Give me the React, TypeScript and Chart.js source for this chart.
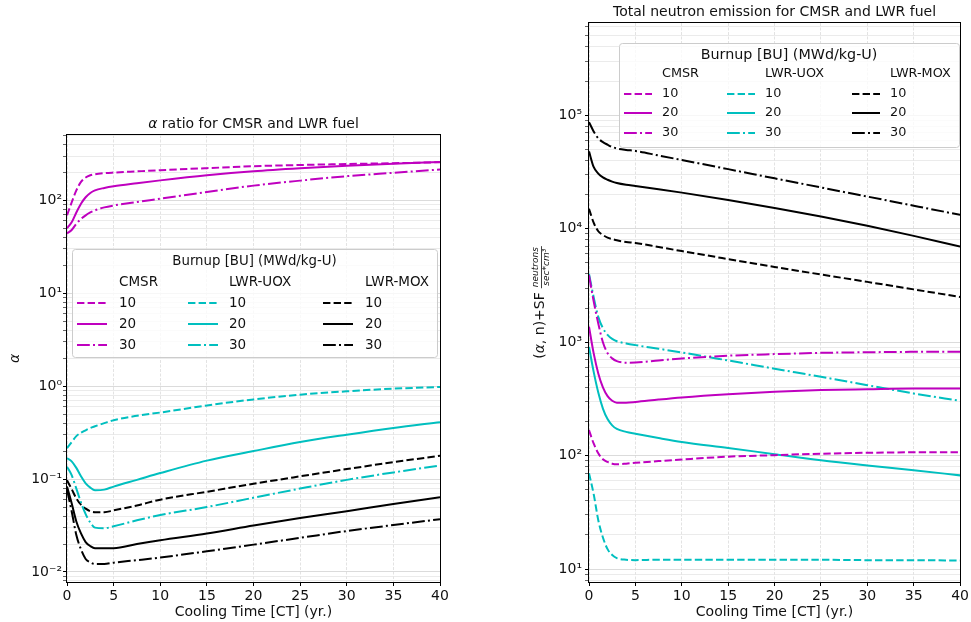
import React, { useEffect, useRef } from 'react';
import { Chart, registerables } from 'chart.js';

Chart.register(...registerables);

// ---------------- DATA ----------------
const coolingTime = [0, 0.5, 1, 1.5, 2, 2.5, 3, 4, 5, 7.5, 10, 15, 20, 25, 30, 35, 40];

// alpha ratio (left panel)
const alphaCMSR10 = [69, 95, 128, 158, 176, 186, 191, 196, 199, 205, 211, 222, 233, 240, 246, 251, 257];
const alphaCMSR20 = [50, 58, 74, 92, 108, 120, 128, 136, 142, 153, 164, 186, 206, 222, 236, 248, 259];
const alphaCMSR30 = [44, 48, 56, 63, 69, 74, 78, 84, 88, 96, 104, 123, 144, 163, 182, 198, 215];
const alphaUOX10 = [0.215, 0.25, 0.29, 0.315, 0.335, 0.355, 0.37, 0.4, 0.43, 0.48, 0.52, 0.62, 0.72, 0.81, 0.88, 0.94, 0.98];
const alphaUOX20 = [0.168, 0.155, 0.132, 0.107, 0.09, 0.081, 0.076, 0.077, 0.083, 0.098, 0.116, 0.158, 0.2, 0.25, 0.3, 0.355, 0.41];
const alphaUOX30 = [0.136, 0.11, 0.079, 0.056, 0.042, 0.034, 0.03, 0.0295, 0.031, 0.036, 0.041, 0.05, 0.063, 0.079, 0.098, 0.118, 0.14];
const alphaMOX10 = [0.097, 0.078, 0.062, 0.053, 0.048, 0.045, 0.044, 0.044, 0.046, 0.052, 0.06, 0.073, 0.089, 0.107, 0.128, 0.152, 0.178];
const alphaMOX20 = [0.083, 0.055, 0.035, 0.026, 0.021, 0.019, 0.018, 0.018, 0.018, 0.02, 0.022, 0.026, 0.0316, 0.038, 0.045, 0.054, 0.0636];
const alphaMOX30 = [0.077, 0.045, 0.025, 0.0175, 0.0138, 0.0127, 0.0122, 0.0122, 0.0126, 0.0134, 0.0143, 0.0167, 0.0197, 0.0233, 0.0276, 0.032, 0.037];

// total neutron emission (right panel)
const neutronCMSR10 = [168, 128, 105, 93, 88, 85, 84, 85, 86.5, 89.5, 92.5, 98, 101, 104, 106, 107, 107];
const neutronCMSR20 = [1370, 800, 530, 400, 335, 305, 293, 293, 297, 312, 326, 348, 365, 378, 385, 391, 391];
const neutronCMSR30 = [3900, 2300, 1460, 1000, 800, 720, 680, 660, 662, 690, 718, 760, 785, 805, 815, 822, 825];
const neutronUOX10 = [70, 46, 27, 19, 15, 13.3, 12.5, 12.1, 12.0, 12.1, 12.1, 12.1, 12.1, 12.1, 12.0, 12.0, 11.9];
const neutronUOX20 = [910, 550, 360, 260, 210, 185, 172, 162, 156, 143, 132, 117, 103, 91, 82, 74.5, 67];
const neutronUOX30 = [4000, 2500, 1670, 1330, 1160, 1070, 1020, 975, 942, 875, 812, 690, 584, 495, 418, 353, 304];
const neutronMOX10 = [15000, 11300, 9500, 8800, 8350, 8100, 7900, 7650, 7500, 6900, 6350, 5400, 4600, 3950, 3400, 2920, 2500];
const neutronMOX20 = [48000, 35000, 30600, 28300, 27000, 26000, 25300, 24400, 23800, 22300, 20800, 17900, 15200, 12800, 10600, 8650, 6950];
const neutronMOX30 = [87000, 72000, 62500, 58000, 55000, 52500, 51000, 49500, 48500, 44200, 40300, 33500, 27800, 23100, 19200, 15950, 13250];

const fuelTypes = ['CMSR', 'LWR-UOX', 'LWR-MOX'];
const burnups = ['10', '20', '30'];
const xTickValues = [0, 5, 10, 15, 20, 25, 30, 35, 40];
const alphaRange = [0.0078, 505];
const neutronRange = [7.7, 650000];

const alphaSeries = [
  [alphaCMSR10, alphaCMSR20, alphaCMSR30],
  [alphaUOX10, alphaUOX20, alphaUOX30],
  [alphaMOX10, alphaMOX20, alphaMOX30],
];
const neutronSeries = [
  [neutronCMSR10, neutronCMSR20, neutronCMSR30],
  [neutronUOX10, neutronUOX20, neutronUOX30],
  [neutronMOX10, neutronMOX20, neutronMOX30],
];

// ---------------- STYLE ----------------
const FONT = '"DejaVu Sans", "Liberation Sans", sans-serif';
const fuelColors = ['#bf00bf', '#00bfbf', '#000000'];
const burnupDash: number[][] = [[7.4, 3.2], [], [12.8, 3.2, 2, 3.2]];
const TEXT = '#111111';

const SUP: Record<string, string> = {
  '-': '⁻', '0': '⁰', '1': '¹', '2': '²', '3': '³', '4': '⁴', '5': '⁵', '6': '⁶', '7': '⁷', '8': '⁸', '9': '⁹',
};
const isPow10 = (v: number) => Math.abs(Math.log10(v) - Math.round(Math.log10(v))) < 1e-6;
const powLabel = (v: number) => '10' + String(Math.round(Math.log10(v))).split('').map((c) => SUP[c]).join('');

function logTicks(min: number, max: number) {
  const ticks: { value: number }[] = [];
  for (let e = Math.floor(Math.log10(min)); e <= Math.ceil(Math.log10(max)); e++) {
    for (let m = 1; m <= 9; m++) {
      const v = m * Math.pow(10, e);
      if (v >= min && v <= max) ticks.push({ value: v });
    }
  }
  return ticks;
}

type Part = { text: string; italic?: boolean };

function drawParts(ctx: CanvasRenderingContext2D, parts: Part[], x: number, y: number, size: number, align: 'center' | 'left') {
  const widths = parts.map((p) => {
    ctx.font = `${p.italic ? 'italic ' : ''}${size}px ${FONT}`;
    return ctx.measureText(p.text).width;
  });
  const total = widths.reduce((a, b) => a + b, 0);
  let cx = align === 'center' ? x - total / 2 : x;
  ctx.textAlign = 'left';
  parts.forEach((p, i) => {
    ctx.font = `${p.italic ? 'italic ' : ''}${size}px ${FONT}`;
    ctx.fillText(p.text, cx, y);
    cx += widths[i];
  });
  return total;
}

function measureParts(ctx: CanvasRenderingContext2D, parts: Part[], size: number) {
  return parts.reduce((acc, p) => {
    ctx.font = `${p.italic ? 'italic ' : ''}${size}px ${FONT}`;
    return acc + ctx.measureText(p.text).width;
  }, 0);
}

type LegendCfg = {
  box: [number, number, number, number];
  titleY: number;
  headerY: number;
  rowY: number[];
  handleX: number[];
  handleLen: number;
  textX: number[];
  titleSize: number;
  labelSize: number;
};

type Deco = {
  title: Part[];
  titleSize: number;
  yTitle: 'alpha' | 'neutron';
  yTitleX: number;
  legend: LegendCfg;
};

const decoPlugin = {
  id: 'deco',
  afterDraw(chart: any, _args: any, opts: Deco) {
    const ctx: CanvasRenderingContext2D = chart.ctx;
    const a = chart.chartArea;
    ctx.save();
    // frame
    ctx.strokeStyle = '#000';
    ctx.lineWidth = 1;
    ctx.setLineDash([]);
    ctx.strokeRect(Math.round(a.left) - 0.5, Math.round(a.top) - 0.5, Math.round(a.right - a.left) + 1, Math.round(a.bottom - a.top) + 1);

    ctx.fillStyle = TEXT;
    ctx.textBaseline = 'middle';
    const midX = (a.left + a.right) / 2;
    const midY = (a.top + a.bottom) / 2;
    // title
    drawParts(ctx, opts.title, midX, a.top - 11, opts.titleSize, 'center');
    // x title
    drawParts(ctx, [{ text: 'Cooling Time [CT] (yr.)' }], midX, a.bottom + 30, 14, 'center');

    // y title
    ctx.save();
    ctx.translate(opts.yTitleX, midY);
    ctx.rotate(-Math.PI / 2);
    if (opts.yTitle === 'alpha') {
      drawParts(ctx, [{ text: 'α', italic: true }], 0, 0, 14, 'center');
    } else {
      const main: Part[] = [{ text: '(' }, { text: 'α', italic: true }, { text: ', n)+SF' }];
      const mainW = measureParts(ctx, main, 14);
      ctx.font = `italic 9px ${FONT}`;
      const num = 'neutrons';
      const den = 'sec*cm³';
      const numW = ctx.measureText(num).width;
      const denW = ctx.measureText(den).width;
      const fracW = Math.max(numW, denW) + 2;
      const total = mainW + 4 + fracW;
      const x0 = -total / 2;
      drawParts(ctx, main, x0, 0, 14, 'left');
      const fx = x0 + mainW + 4 + fracW / 2;
      ctx.font = `italic 9px ${FONT}`;
      ctx.textAlign = 'center';
      ctx.fillText(num, fx, -4);
      ctx.fillText(den, fx, 6.5);
      ctx.strokeStyle = TEXT;
      ctx.lineWidth = 0.8;
      ctx.beginPath();
      ctx.moveTo(fx - fracW / 2, 1.5);
      ctx.lineTo(fx + fracW / 2, 1.5);
      ctx.stroke();
    }
    ctx.restore();

    // legend
    const L = opts.legend;
    const [bx, by, bw, bh] = L.box;
    ctx.fillStyle = 'rgba(255,255,255,0.8)';
    ctx.strokeStyle = '#cccccc';
    ctx.lineWidth = 1;
    ctx.beginPath();
    (ctx as any).roundRect(bx + 0.5, by + 0.5, bw, bh, 3);
    ctx.fill();
    ctx.stroke();
    ctx.fillStyle = TEXT;
    ctx.textBaseline = 'middle';
    drawParts(ctx, [{ text: 'Burnup [BU] (MWd/kg-U)' }], bx + bw / 2, L.titleY, L.titleSize, 'center');
    fuelTypes.forEach((fuel, c) => {
      ctx.fillStyle = TEXT;
      drawParts(ctx, [{ text: fuel }], L.textX[c], L.headerY, L.labelSize, 'left');
      burnups.forEach((bu, r) => {
        ctx.save();
        ctx.strokeStyle = fuelColors[c];
        ctx.lineWidth = 2;
        ctx.setLineDash(burnupDash[r]);
        ctx.beginPath();
        ctx.moveTo(L.handleX[c], L.rowY[r]);
        ctx.lineTo(L.handleX[c] + L.handleLen, L.rowY[r]);
        ctx.stroke();
        ctx.restore();
        ctx.fillStyle = TEXT;
        drawParts(ctx, [{ text: bu }], L.textX[c], L.rowY[r], L.labelSize, 'left');
      });
    });
    ctx.restore();
  },
};

type PanelSpec = {
  series: number[][][];
  range: number[];
  padding: { left: number; right: number; top: number; bottom: number };
  yWidth: number;
  yTickPad: number;
  tickSize: number;
  deco: Deco;
};

function buildConfig(spec: PanelSpec): any {
  const datasets: any[] = [];
  spec.series.forEach((group, c) => {
    group.forEach((values, r) => {
      datasets.push({
        label: `${fuelTypes[c]} ${burnups[r]}`,
        data: coolingTime.map((x, i) => ({ x, y: values[i] })),
        borderColor: fuelColors[c],
        backgroundColor: fuelColors[c],
        borderWidth: 2,
        borderDash: burnupDash[r],
        pointRadius: 0,
        fill: false,
        cubicInterpolationMode: 'monotone',
      });
    });
  });
  return {
    type: 'line',
    data: { datasets },
    plugins: [decoPlugin],
    options: {
      animation: false,
      responsive: false,
      devicePixelRatio: 1,
      layout: { padding: spec.padding },
      plugins: {
        legend: { display: false },
        tooltip: { enabled: false },
        title: { display: false },
        deco: spec.deco,
      },
      scales: {
        x: {
          type: 'linear',
          min: 0,
          max: 40,
          afterBuildTicks: (scale: any) => {
            scale.ticks = xTickValues.map((v) => ({ value: v }));
          },
          afterFit: (scale: any) => {
            scale.height = 40;
          },
          ticks: {
            color: TEXT,
            font: { family: FONT, size: spec.tickSize },
            padding: 2,
            maxRotation: 0,
            autoSkip: false,
            callback: (v: number) => String(v),
          },
          grid: {
            color: '#dcdcdc',
            lineWidth: 0.8,
            tickColor: '#000',
            tickLength: 4,
            tickWidth: 1,
          },
          border: { display: false, dash: [3, 1.5] },
        },
        y: {
          type: 'logarithmic',
          min: spec.range[0],
          max: spec.range[1],
          afterBuildTicks: (scale: any) => {
            scale.ticks = logTicks(spec.range[0], spec.range[1]);
          },
          afterFit: (scale: any) => {
            scale.width = spec.yWidth;
          },
          ticks: {
            color: TEXT,
            font: { family: FONT, size: spec.tickSize },
            padding: spec.yTickPad,
            autoSkip: false,
            callback: (v: number) => (isPow10(v) ? powLabel(v) : ''),
          },
          grid: {
            color: (ctx: any) => (ctx.tick && isPow10(ctx.tick.value) ? '#d2d2d2' : '#e6e6e6'),
            lineWidth: 0.8,
            tickColor: '#000',
            tickLength: 4,
            tickWidth: (ctx: any) => (ctx.tick && isPow10(ctx.tick.value) ? 1 : 0.6),
          },
          border: { display: false },
        },
      },
    },
  };
}

const leftSpec: PanelSpec = {
  series: alphaSeries,
  range: alphaRange,
  padding: { left: 0, right: 45, top: 135, bottom: 0 },
  yWidth: 67,
  yTickPad: 1,
  tickSize: 14,
  deco: {
    title: [{ text: 'α', italic: true }, { text: ' ratio for CMSR and LWR fuel' }],
    titleSize: 14,
    yTitle: 'alpha',
    yTitleX: 15,
    legend: {
      box: [72, 249, 365, 108],
      titleY: 262,
      headerY: 282,
      rowY: [303, 324, 345],
      handleX: [77, 188, 323],
      handleLen: 30,
      textX: [119, 229, 365],
      titleSize: 13.3,
      labelSize: 13.5,
    },
  },
};

const RX = 485;
const rightSpec: PanelSpec = {
  series: neutronSeries,
  range: neutronRange,
  padding: { left: 0, right: 10, top: 23, bottom: 0 },
  yWidth: 104,
  yTickPad: 3,
  tickSize: 14,
  deco: {
    title: [{ text: 'Total neutron emission for CMSR and LWR fuel' }],
    titleSize: 14,
    yTitle: 'neutron',
    yTitleX: 540 - RX,
    legend: {
      box: [619 - RX, 43, 340, 104],
      titleY: 55,
      headerY: 74,
      rowY: [94, 113, 133],
      handleX: [624 - RX, 727 - RX, 852 - RX],
      handleLen: 28,
      textX: [662 - RX, 765 - RX, 890 - RX],
      titleSize: 14.3,
      labelSize: 12.8,
    },
  },
};

export default function App() {
  const leftRef = useRef<HTMLCanvasElement>(null);
  const rightRef = useRef<HTMLCanvasElement>(null);
  useEffect(() => {
    const c1 = new Chart(leftRef.current as HTMLCanvasElement, buildConfig(leftSpec));
    const c2 = new Chart(rightRef.current as HTMLCanvasElement, buildConfig(rightSpec));
    return () => {
      c1.destroy();
      c2.destroy();
    };
  }, []);
  return (
    <div style={{ position: 'absolute', left: 0, top: 0, width: 971, height: 622, background: '#ffffff' }}>
      <canvas ref={leftRef} width={RX} height={622} style={{ position: 'absolute', left: 0, top: 0, width: RX, height: 622 }} />
      <canvas ref={rightRef} width={971 - RX} height={622} style={{ position: 'absolute', left: RX, top: 0, width: 971 - RX, height: 622 }} />
    </div>
  );
}
